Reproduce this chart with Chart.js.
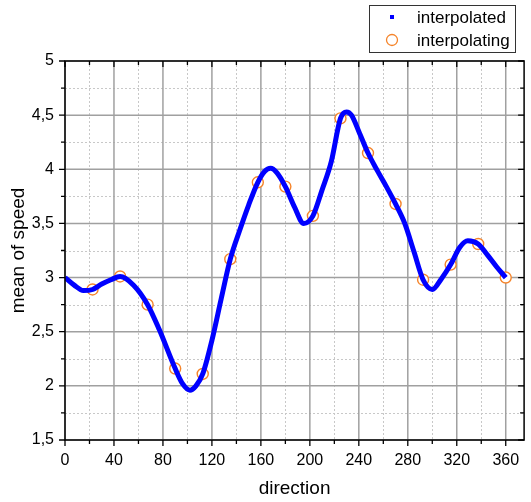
<!DOCTYPE html>
<html>
<head>
<meta charset="utf-8">
<script src="https://cdn.jsdelivr.net/npm/chart.js@4.4.1/dist/chart.umd.min.js"></script>
<style>
  html, body { margin: 0; padding: 0; background: #fff; }
  #wrap { width: 531px; height: 502px; }
</style>
</head>
<body>
<div id="wrap"><canvas id="speedChart"></canvas></div>
<script>
// interpolating points (the orange circles)
const knotDirs = [22.5, 45, 67.5, 90, 112.5, 135, 157.5, 180, 202.5, 225, 247.5, 270, 292.5, 315, 337.5, 360];
const knotSpeeds = [2.89, 3.01, 2.75, 2.16, 2.11, 3.17, 3.88, 3.84, 3.57, 4.47, 4.15, 3.68, 2.98, 3.12, 3.31, 3.00];

// interpolated curve
const curveDirs = [0, 7.5, 15, 22.5, 30, 37.5, 45, 56, 67.5, 77, 90, 96, 102, 107, 112.5, 120, 127.5, 135, 142.5, 150, 157.5, 163, 168, 173, 180, 187.5, 195, 202.5, 210, 217.5, 225, 230, 234, 240, 247.5, 255, 262.5, 270, 277.5, 285, 292.5, 300, 307.5, 315, 322.5, 329, 337.5, 345, 352.5, 360];
const curveSpeeds = [3.00, 2.93, 2.88, 2.89, 2.94, 2.98, 3.01, 2.93, 2.75, 2.52, 2.16, 2.02, 1.96, 2.00, 2.11, 2.42, 2.80, 3.17, 3.43, 3.67, 3.88, 3.98, 4.01, 3.97, 3.84, 3.65, 3.50, 3.57, 3.81, 4.07, 4.47, 4.53, 4.50, 4.35, 4.15, 3.99, 3.84, 3.68, 3.50, 3.24, 2.98, 2.89, 2.99, 3.12, 3.28, 3.34, 3.31, 3.21, 3.10, 3.00];

const seriesNames = ['interpolated', 'interpolating'];

const FONT = '"Liberation Sans", Arial, sans-serif';

function isMajorX(v) { return v % 40 === 0; }
function isMajorY(v) { return Math.abs(v * 2 - Math.round(v * 2)) < 1e-6; }

// grid, axis frame, ticks and the boxed legend
const framePlugin = {
    id: 'framePlugin',
    beforeDatasetsDraw(chart) {
        const { ctx, chartArea: a, scales: { x, y } } = chart;
        ctx.save();
        // minor grid, dotted
        ctx.strokeStyle = '#c8c8c8';
        ctx.lineWidth = 1;
        ctx.setLineDash([2, 2]);
        x.ticks.forEach(t => {
            if (isMajorX(t.value)) return;
            const px = Math.round(x.getPixelForValue(t.value)) + 0.5;
            ctx.beginPath(); ctx.moveTo(px, a.top); ctx.lineTo(px, a.bottom); ctx.stroke();
        });
        y.ticks.forEach(t => {
            if (isMajorY(t.value)) return;
            const py = Math.round(y.getPixelForValue(t.value)) + 0.5;
            ctx.beginPath(); ctx.moveTo(a.left, py); ctx.lineTo(a.right, py); ctx.stroke();
        });
        // major grid, solid
        ctx.setLineDash([]);
        ctx.strokeStyle = '#a0a0a0';
        ctx.lineWidth = 1.5;
        x.ticks.forEach(t => {
            if (!isMajorX(t.value)) return;
            const px = x.getPixelForValue(t.value);
            ctx.beginPath(); ctx.moveTo(px, a.top); ctx.lineTo(px, a.bottom); ctx.stroke();
        });
        y.ticks.forEach(t => {
            if (!isMajorY(t.value)) return;
            const py = y.getPixelForValue(t.value);
            ctx.beginPath(); ctx.moveTo(a.left, py); ctx.lineTo(a.right, py); ctx.stroke();
        });
        ctx.restore();
    },
    afterDatasetsDraw(chart) {
        const { ctx, chartArea: a, scales: { x, y } } = chart;
        ctx.save();
        ctx.strokeStyle = '#000';
        ctx.lineWidth = 1.5;
        ctx.strokeRect(a.left, a.top, a.right - a.left, a.bottom - a.top);
        ctx.lineWidth = 1.3;
        x.ticks.forEach(t => {
            const px = x.getPixelForValue(t.value);
            const len = isMajorX(t.value) ? 6 : 4;
            ctx.beginPath();
            ctx.moveTo(px, a.bottom); ctx.lineTo(px, a.bottom + len);
            ctx.moveTo(px, a.top); ctx.lineTo(px, a.top + len);
            ctx.stroke();
        });
        y.ticks.forEach(t => {
            const py = y.getPixelForValue(t.value);
            const len = isMajorY(t.value) ? 6 : 4;
            ctx.beginPath();
            ctx.moveTo(a.left, py); ctx.lineTo(a.left - len, py);
            ctx.moveTo(a.right, py); ctx.lineTo(a.right - len, py);
            ctx.stroke();
        });
        ctx.restore();
    },
    afterDraw(chart) {
        const ctx = chart.ctx;
        const ds = chart.data.datasets;
        ctx.save();
        ctx.fillStyle = '#fff';
        ctx.fillRect(369, 5, 146, 47);
        ctx.strokeStyle = '#333';
        ctx.lineWidth = 1;
        ctx.strokeRect(369.5, 5.5, 146, 47);
        // interpolated marker
        ctx.fillStyle = ds[0].borderColor;
        ctx.fillRect(390, 15, 4, 4);
        // interpolating marker
        ctx.beginPath();
        ctx.arc(392, 40, 5.5, 0, Math.PI * 2);
        ctx.fillStyle = '#fff';
        ctx.fill();
        ctx.strokeStyle = ds[1].pointBorderColor;
        ctx.lineWidth = 1.3;
        ctx.stroke();
        ctx.fillStyle = '#000';
        ctx.font = '17px ' + FONT;
        ctx.textBaseline = 'middle';
        ctx.fillText(ds[0].label, 417, 18);
        ctx.fillText(ds[1].label, 417, 41);
        ctx.restore();
    }
};

document.addEventListener('DOMContentLoaded', function () {
    const ctx = document.getElementById('speedChart').getContext('2d');
    new Chart(ctx, {
        type: 'scatter',
        data: {
            datasets: [{
                label: seriesNames[0],
                data: curveDirs.map((d, i) => ({ x: d, y: curveSpeeds[i] })),
                showLine: true,
                borderColor: '#0000ff',
                borderWidth: 5,
                cubicInterpolationMode: 'monotone',
                pointRadius: 0,
                pointHoverRadius: 0
            }, {
                label: seriesNames[1],
                data: knotDirs.map((d, i) => ({ x: d, y: knotSpeeds[i] })),
                showLine: false,
                pointRadius: 5.5,
                pointBorderWidth: 1.4,
                pointBorderColor: '#f5842a',
                pointBackgroundColor: '#ffffff'
            }]
        },
        options: {
            responsive: true,
            maintainAspectRatio: false,
            animation: false,
            layout: { padding: { top: 61, right: 3, left: 0, bottom: 0 } },
            plugins: {
                legend: { display: false },
                tooltip: { enabled: false }
            },
            scales: {
                x: {
                    type: 'linear',
                    min: 0,
                    max: 375,
                    afterFit: s => { s.height = 62; },
                    grid: { display: false, drawTicks: false },
                    border: { display: false },
                    ticks: {
                        stepSize: 20,
                        includeBounds: false,
                        autoSkip: false,
                        maxRotation: 0,
                        padding: 11,
                        color: '#000',
                        font: { family: FONT, size: 16 },
                        callback: v => isMajorX(v) ? String(v) : ''
                    },
                    title: {
                        display: true,
                        text: 'direction',
                        color: '#000',
                        font: { family: FONT, size: 19 },
                        padding: { top: 0, bottom: 2 }
                    }
                },
                y: {
                    min: 1.5,
                    max: 5,
                    afterFit: s => { s.width = 65; },
                    grid: { display: false, drawTicks: false },
                    border: { display: false },
                    ticks: {
                        stepSize: 0.25,
                        includeBounds: false,
                        autoSkip: false,
                        padding: 11,
                        color: '#000',
                        font: { family: FONT, size: 16 },
                        callback: v => isMajorY(v) ? String(v).replace('.', ',') : ''
                    },
                    title: {
                        display: true,
                        text: 'mean of speed',
                        color: '#000',
                        font: { family: FONT, size: 19 },
                        padding: { top: 7, bottom: 0 }
                    }
                }
            }
        },
        plugins: [framePlugin]
    });
});
</script>
</body>
</html>
